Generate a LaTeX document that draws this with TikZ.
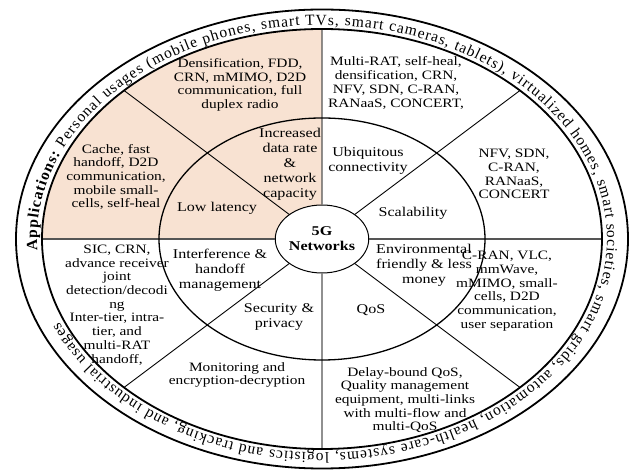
\documentclass[tikz,border=0pt]{standalone}
\usepackage{fontspec}
\setmainfont{Liberation Serif}
\usetikzlibrary{shapes.geometric,decorations.text}
\definecolor{peach}{RGB}{248,226,210}
\definecolor{axisgray}{RGB}{85,85,85}

\begin{document}
\begin{tikzpicture}[x=1pt,y=1pt,line join=round,
  outer/.style={font=\fontsize{12.8}{13.7}\selectfont,align=center,xscale=1.2},
  inner/.style={font=\fontsize{13.4}{15}\selectfont,align=center,xscale=1.2},
  core/.style={ellipse,draw,line width=1pt,fill=white,xscale=1.2,
    minimum width=70pt,minimum height=68pt,inner sep=0pt,align=center,
    font=\bfseries\fontsize{13.4}{15}\selectfont}]
 \useasboundingbox (-322,-231) rectangle (312,239);
 % points on the inner edge of the ring
 \foreach \p/\a in {n/90,e/0,s/270,w/180,ne/45,nw/135,sw/225,se/315}
  \coordinate (\p) at (\a:280 and 210);
 \fill[peach] (0,0) -- (w) arc[start angle=180,end angle=90,x radius=280,y radius=210] -- cycle;
 \node[core] (core) at (0,0) {5G\\Networks};
 \foreach \p in {n,e,s,w}
  \draw[axisgray,line width=1.1pt] (core) -- (\p);
 \foreach \p in {ne,nw,sw,se}
  \draw[line width=.9pt] (core) -- (\p);
 \draw[line width=1.3pt] (0,0) ellipse[x radius=163,y radius=121];
 \draw[line width=1.8pt] (0,0) ellipse[x radius=280,y radius=210];
 \draw[line width=1.8pt] (0,0) ellipse[x radius=306,y radius=229.5];
 % application ring
 \begin{scope}
  \fontsize{15.5}{18}\selectfont
  \path[decorate,decoration={text along path,text align=fit to path,
   text={|\bfseries|Applications:|\mdseries| Personal usages (mobile phones, smart TVs, smart cameras, tablets), virtualized homes, smart societies, smart grids, automation, health-care systems, logistics and tracking, and industrial usages}}]
   (183:285 and 214) arc[start angle=183,end angle=-157,x radius=285,y radius=214];
 \end{scope}
 % enabling technologies
 \node[outer] (dens) at (-82,154) {Densification, FDD,\\CRN, mMIMO, D2D\\communication, full\\duplex radio};
 \node[outer] (mrat) at (74,156) {Multi-RAT, self-heal,\\densification, CRN,\\NFV, SDN, C-RAN,\\RANaaS, CONCERT,};
 \node[outer] (nfv) at (192,65) {NFV, SDN,\\C-RAN,\\RANaaS,\\CONCERT};
 \node[outer] (cran) at (185,-52) {C-RAN, VLC,\\mmWave,\\mMIMO, small-\\cells, D2D\\communication,\\user separation};
 \node[outer] (delay) at (83,-161) {Delay-bound QoS,\\Quality management\\equipment, multi-links\\with multi-flow and\\multi-QoS};
 \node[outer] (moni) at (-85,-136) {Monitoring and\\encryption-decryption};
 \node[outer] (sic) at (-205,-66) {SIC, CRN,\\advance receiver\\joint\\detection/decodi\\ng\\Inter-tier, intra-\\tier, and\\multi-RAT\\handoff,};
 \node[outer] (cache) at (-206,62) {Cache, fast\\handoff, D2D\\communication,\\mobile small-\\cells, self-heal};
 % requirements
 \node[inner] (rate) at (-32,75) {Increased\\data rate\\\&\\network\\capacity};
 \node[inner] (lat) at (-105,31) {Low latency};
 \node[inner] (ubiq) at (46,78) {Ubiquitous\\connectivity};
 \node[inner] (scal) at (91,26) {Scalability};
 \node[inner] (env) at (102,-26) {Environmental\\friendly \& less\\money};
 \node[inner] (qos) at (49,-71) {QoS};
 \node[inner] (sec) at (-43,-78) {Security \&\\privacy};
 \node[inner] (intf) at (-102,-31) {Interference \&\\handoff\\management};
\end{tikzpicture}
\end{document}
